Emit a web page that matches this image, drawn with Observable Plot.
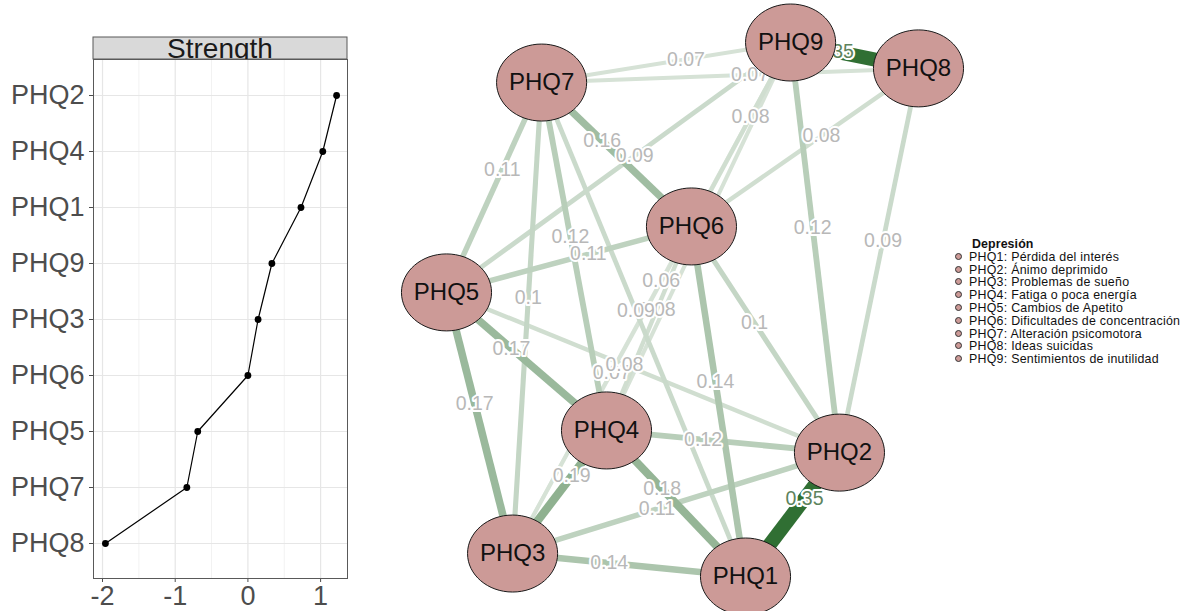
<!DOCTYPE html>
<html>
<head>
<meta charset="utf-8">
<script src="https://cdn.jsdelivr.net/npm/d3@7"></script>
<script src="https://cdn.jsdelivr.net/npm/@observablehq/plot@0.6"></script>
<style>
  body { margin: 0; background: #fff; font-family: "Liberation Sans", Arial, sans-serif; }
  #wrap { position: relative; width: 1197px; height: 611px; overflow: hidden; background: #fff; }
  #left { position: absolute; left: 0; top: 0; }
  #net { position: absolute; left: 380px; top: 0; }
  #legend { position: absolute; left: 955px; top: 238px; font-size: 12.4px; letter-spacing: 0.25px; line-height: 12.8px; color: #111; white-space: nowrap; }
  #legend .t { font-weight: bold; padding-left: 17px; letter-spacing: 0.1px; }
  #legend .m { display: inline-block; width: 5px; height: 5px; border-radius: 50%; background: #cc9a97; border: 1.3px solid #333; margin-right: 7px; vertical-align: 1px; }
</style>
</head>
<body>
<div id="wrap">
  <div id="left"></div>
  <div id="net"></div>
  <div id="legend"></div>
</div>
<script>
// ---------- Centrality plot data ----------
const strengthItems  = ["PHQ2", "PHQ4", "PHQ1", "PHQ9", "PHQ3", "PHQ6", "PHQ5", "PHQ7", "PHQ8"];
const strengthValues = [1.22, 1.03, 0.73, 0.33, 0.14, 0.00, -0.69, -0.84, -1.96];
const xTicks = [-2, -1, 0, 1];
const xMinorGrid = [-1.5, -0.5, 0.5];
const panelTitle = "Strength";

// ---------- Network data ----------
const nodeNames = ["PHQ1", "PHQ2", "PHQ3", "PHQ4", "PHQ5", "PHQ6", "PHQ7", "PHQ8", "PHQ9"];
// layout coordinates (qgraph-style, -1..1)
const layoutX = [0.267, 0.665, -0.720, -0.322, -1.000, 0.038, -0.597, 1.000, 0.458];
const layoutY = [-1.000, -0.536, -0.914, -0.453, 0.064, 0.311, 0.850, 0.903, 1.000];
// edges (node numbers) and partial correlations
const edgeFrom   = [9, 2, 9, 8, 9, 9, 8, 9, 8, 7, 7, 7, 6, 7, 6, 6, 5, 5, 5, 4, 4, 4, 3, 3, 6, 6, 9, 9, 7];
const edgeTo     = [8, 1, 7, 7, 5, 6, 6, 2, 2, 6, 5, 4, 5, 3, 2, 1, 4, 3, 2, 2, 3, 1, 2, 1, 3, 4, 3, 4, 1];
const edgeWeight = [0.35, 0.35, 0.07, 0.07, 0.09, 0.08, 0.08, 0.12, 0.09, 0.16, 0.11, 0.12, 0.11, 0.10, 0.10, 0.14,
                    0.17, 0.17, 0.08, 0.12, 0.19, 0.18, 0.11, 0.14, 0.07, 0.08, 0.06, 0.07, 0.09];

const legendTitle = "Depresión";
const legendLabels = [
  "PHQ1: Pérdida del interés",
  "PHQ2: Ánimo deprimido",
  "PHQ3: Problemas de sueño",
  "PHQ4: Fatiga o poca energía",
  "PHQ5: Cambios de Apetito",
  "PHQ6: Dificultades de concentración",
  "PHQ7: Alteración psicomotora",
  "PHQ8: Ideas suicidas",
  "PHQ9: Sentimientos de inutilidad"
];

const FONT = "'Liberation Sans', Arial, Helvetica, sans-serif";

// ---------- Strength plot ----------
const strengthData = strengthItems.map((item, i) => ({item, value: strengthValues[i]}));

function stripMark(index, scales, values, dims) {
  const {width, marginLeft, marginRight, marginTop} = dims;
  const h = 22, x0 = marginLeft, x1 = width - marginRight, y0 = marginTop - h;
  const g = d3.create("svg:g");
  g.append("clipPath").attr("id", "stripClip")
    .append("rect").attr("x", x0).attr("y", y0).attr("width", x1 - x0).attr("height", h);
  g.append("rect").attr("x", x0).attr("y", y0).attr("width", x1 - x0).attr("height", h)
    .attr("fill", "#d9d9d9").attr("stroke", "#595959").attr("stroke-width", 1);
  g.append("text").attr("clip-path", "url(#stripClip)")
    .attr("x", (x0 + x1) / 2).attr("y", marginTop - 1)
    .attr("text-anchor", "middle").attr("font-size", 28).attr("fill", "#1a1a1a")
    .attr("font-family", FONT).text(panelTitle);
  return g.node();
}

const left = Plot.plot({
  width: 360, height: 611,
  marginLeft: 93, marginRight: 13, marginTop: 59, marginBottom: 33,
  style: {fontFamily: FONT, fontSize: "27px", color: "#4d4d4d", background: "transparent", overflow: "visible"},
  x: {domain: [-2.124, 1.37], ticks: xTicks, tickFormat: d => String(d), label: null, tickSize: 4, tickPadding: 3},
  y: {type: "point", domain: strengthItems, padding: 0.6, label: null, tickSize: 4, tickPadding: 5},
  marks: [
    stripMark,
    Plot.ruleX(xMinorGrid, {stroke: "#f2f2f2", strokeWidth: 1}),
    Plot.ruleX(xTicks, {stroke: "#e6e6e6", strokeWidth: 1.2}),
    Plot.ruleY(strengthItems, {stroke: "#e6e6e6", strokeWidth: 1.2}),
    Plot.line(strengthData, {x: "value", y: "item", stroke: "#000", strokeWidth: 1.2}),
    Plot.dot(strengthData, {x: "value", y: "item", r: 3.4, fill: "#000"}),
    Plot.frame({stroke: "#595959", strokeWidth: 1})
  ]
});
document.getElementById("left").appendChild(left);

// ---------- Network plot ----------
const netW = 590, netH = 611;
const xRange = [66, 538], yRange = [576, 42];
const kx = (xRange[1] - xRange[0]) / 2, ky = (yRange[0] - yRange[1]) / 2; // px per layout unit
const nodeRy = 38.5, nodeRx = nodeRy * 1.17;

const nodes = nodeNames.map((name, i) => ({name, x: layoutX[i], y: layoutY[i]}));
const labelShift = 20; // px toward the "from" node, as qgraph places labels
const insideNode = (x, y) => nodes.some(n => ((x - n.x) * kx / nodeRx) ** 2 + ((y - n.y) * ky / nodeRy) ** 2 < 1);
const edges = edgeWeight.map((w, i) => {
  const a = nodes[edgeFrom[i] - 1], b = nodes[edgeTo[i] - 1];
  const mx = (a.x + b.x) / 2, my = (a.y + b.y) / 2;
  const dxp = (a.x - b.x) * kx, dyp = (a.y - b.y) * ky;
  const len = Math.hypot(dxp, dyp);
  const lx = mx + (dxp / len) * labelShift / kx, ly = my + (dyp / len) * labelShift / ky;
  return {
    weight: w,
    x1: a.x, y1: a.y, x2: b.x, y2: b.y,
    lx, ly,
    hidden: insideNode(lx, ly), // label covered by a node in the drawing
    label: String(+w.toFixed(2))
  };
}).sort((p, q) => p.weight - q.weight);

const ellipse = {
  draw(ctx, size) {
    const r = Math.sqrt(size / Math.PI);
    const rx = r * 1.17, ry = r, k = 0.5523;
    ctx.moveTo(rx, 0);
    ctx.bezierCurveTo(rx, ry * k, rx * k, ry, 0, ry);
    ctx.bezierCurveTo(-rx * k, ry, -rx, ry * k, -rx, 0);
    ctx.bezierCurveTo(-rx, -ry * k, -rx * k, -ry, 0, -ry);
    ctx.bezierCurveTo(rx * k, -ry, rx, -ry * k, rx, 0);
    ctx.closePath();
  }
};

const net = Plot.plot({
  width: netW, height: netH, margin: 0,
  style: {fontFamily: FONT, background: "transparent", overflow: "visible"},
  x: {domain: [-1, 1], range: xRange, axis: null},
  y: {domain: [-1, 1], range: yRange, axis: null},
  color: {type: "linear", domain: [0, 0.35], range: ["#ffffff", "#306f33"]},
  marks: [
    Plot.link(edges, {x1: "x1", y1: "y1", x2: "x2", y2: "y2", stroke: "weight",
      strokeWidth: d => 1.5 + 36 * d.weight, strokeLinecap: "butt"}),
    Plot.text(edges.filter(e => !e.hidden), {x: "lx", y: "ly", text: "label", fontSize: 19.5,
      fill: d => d.weight > 0.3 ? "#5d835d" : "#b8b8b8",
      stroke: "white", strokeWidth: 4, paintOrder: "stroke"}),
    Plot.dot(nodes, {x: "x", y: "y", r: nodeRy, symbol: ellipse, fill: "#cc9a97", stroke: "#1a1a1a", strokeWidth: 1}),
    Plot.text(nodes, {x: "x", y: "y", text: "name", fontSize: 24, fill: "#111"})
  ]
});
document.getElementById("net").appendChild(net);

// ---------- Legend ----------
const leg = d3.select("#legend");
leg.append("div").attr("class", "t").text(legendTitle);
legendLabels.forEach(t => {
  const row = leg.append("div");
  row.append("span").attr("class", "m");
  row.append("span").text(t);
});
</script>
</body>
</html>
